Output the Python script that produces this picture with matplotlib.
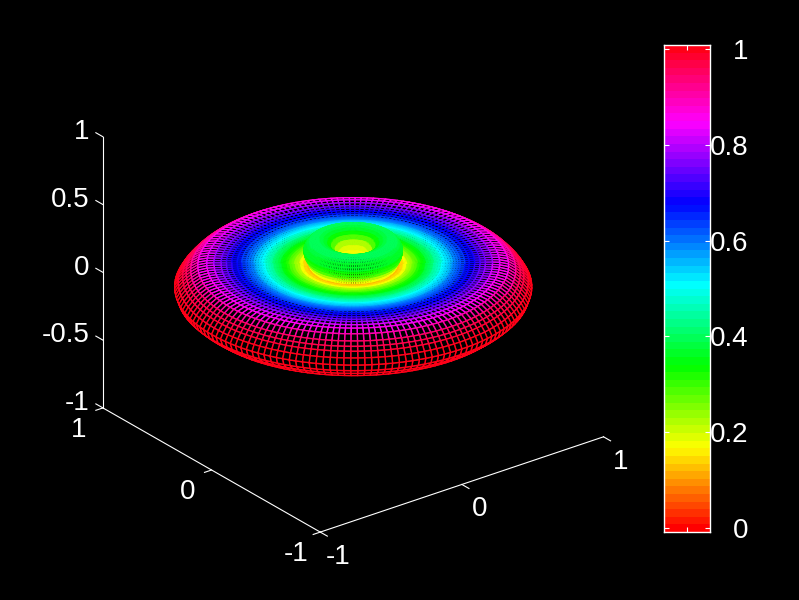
import numpy as np
import matplotlib
matplotlib.use('Agg')
import matplotlib.pyplot as plt
from matplotlib.colors import Normalize
from mpl_toolkits.mplot3d import proj3d
from mpl_toolkits.mplot3d.art3d import Poly3DCollection

plt.rcParams['font.family'] = ['Liberation Sans', 'DejaVu Sans']

# profile of the surface of revolution, pole -> rim -> underside
rows_r = [0.0, 0.02, 0.04, 0.07, 0.09, 0.11, 0.13, 0.15, 0.17, 0.19, 0.21, 0.23, 0.245, 0.258, 0.268, 0.275,
          0.275, 0.27, 0.26, 0.25, 0.24, 0.245, 0.26, 0.28, 0.30, 0.315, 0.33, 0.345, 0.36, 0.375, 0.39,
          0.405, 0.42, 0.435, 0.45, 0.465, 0.48, 0.495, 0.51, 0.525, 0.54, 0.555, 0.57, 0.585, 0.60, 0.625,
          0.65, 0.68, 0.71, 0.74, 0.78, 0.82, 0.87, 0.91, 0.935, 0.955, 0.98, 1.0, 0.985, 0.95, 0.90, 0.84,
          0.65, 0.40, 0.20, 0.0]
rows_z = [0.20, 0.201, 0.205, 0.225, 0.25, 0.28, 0.305, 0.322, 0.335, 0.342, 0.345, 0.34, 0.33, 0.315, 0.295, 0.275,
          0.26, 0.235, 0.21, 0.185, 0.155, 0.155, 0.156, 0.158, 0.16, 0.161, 0.162, 0.162, 0.163, 0.163, 0.164,
          0.164, 0.165, 0.165, 0.166, 0.166, 0.167, 0.167, 0.168, 0.168, 0.168, 0.169, 0.169, 0.17, 0.17, 0.17,
          0.17, 0.17, 0.17, 0.17, 0.17, 0.168, 0.155, 0.125, 0.10, 0.075, 0.04, 0.0, -0.05, -0.09, -0.135, -0.16,
          -0.17, -0.17, -0.16, -0.16]
rows_c = [0.16, 0.16, 0.17, 0.19, 0.23, 0.29, 0.33, 0.36, 0.38, 0.39, 0.39, 0.39, 0.38, 0.37, 0.36, 0.34,
          0.31, 0.28, 0.22, 0.17, 0.06, 0.12, 0.15, 0.18, 0.22, 0.245, 0.27, 0.29, 0.31, 0.33, 0.35,
          0.38, 0.40, 0.42, 0.44, 0.46, 0.48, 0.50, 0.52, 0.54, 0.56, 0.58, 0.60, 0.62, 0.64, 0.665,
          0.69, 0.72, 0.75, 0.78, 0.82, 0.86, 0.91, 0.95, 0.97, 0.99, 1.0, 1.0, 1.0, 1.0, 1.0, 1.0,
          1.0, 1.0, 1.0, 1.0]

ticks_xyz = [-1, 0, 1]
ticks_z = [-1, -0.5, 0, 0.5, 1]
ticks_bar = [0, 0.2, 0.4, 0.6, 0.8, 1]
labels_z = ['-1', '-0.5', '0', '0.5', '1']
labels_bar = ['0', '0.2', '0.4', '0.6', '0.8', '1']
clim = (-0.008, 1.008)
n_meridians = 160

cmap = plt.get_cmap('hsv', 64)
norm = Normalize(*clim)

fig = plt.figure(figsize=(7.99, 6), dpi=100, facecolor='k')
W, H = 799, 600
ax = fig.add_axes([60 / W, 20 / H, 571 / W, 571 / H], projection='3d', proj_type='ortho')
ax.set_facecolor('k')
ax.set_axis_off()
ax.view_init(elev=26, azim=-127.5)
ax.set_box_aspect((1, 1, 0.845))
ax.set_xlim(-1, 1)
ax.set_ylim(-1, 1)
ax.set_zlim(-1, 1)

# mesh: black faces hide what is behind, edges carry the colour
phi = np.linspace(0, 2 * np.pi, n_meridians + 1)
verts = []
edges = []
for i in range(len(rows_r) - 1):
    for j in range(n_meridians):
        quad = []
        for k, p in ((i, phi[j]), (i, phi[j + 1]), (i + 1, phi[j + 1]), (i + 1, phi[j])):
            quad.append((rows_r[k] * np.cos(p), rows_r[k] * np.sin(p), rows_z[k]))
        verts.append(quad)
        edges.append(cmap(norm(rows_c[i])))
mesh = Poly3DCollection(verts, facecolors='k', edgecolors=edges, linewidths=1.0)
ax.add_collection3d(mesh)


def label3d(x, y, z, s, ha='center'):
    # plain 2D text at the projected spot of a 3D point
    px, py, _ = proj3d.proj_transform(x, y, z, ax.get_proj())
    ax.text2D(px, py, s, transform=ax.transData, color='w', fontsize=20, ha=ha, va='center', clip_on=False)


# axis lines and ticks
line = dict(color='w', lw=0.8)
ax.plot([-1, 1], [-1, -1], [-1, -1], **line)
ax.plot([-1, -1], [-1, 1], [-1, -1], **line)
ax.plot([-1, -1], [1, 1], [-1, 1], **line)
for t in ticks_xyz:
    ax.plot([t, t], [-1, -1.065], [-1, -1], **line)
    ax.plot([-1, -1.05], [t, t], [-1, -1], **line)
    label3d(t, -1.16, -1.11, str(t))
    label3d(-1.17, t, -1.1, str(t))
for t, s in zip(ticks_z, labels_z):
    ax.plot([-1, -1], [1, 1.065], [t, t], **line)
    label3d(-1, 1.12, t - 0.02, s, ha='right')

# colorbar
cax = fig.add_axes([664 / W, (H - 532) / H, 46 / W, 487 / H])
cax.imshow(np.linspace(0, 1, 64)[:, None], cmap=cmap, origin='lower', aspect='auto',
           extent=(0, 1, clim[0], clim[1]), vmin=0, vmax=1, interpolation='nearest')
cax.set_facecolor('k')
for s in cax.spines.values():
    s.set_color('w')
    s.set_linewidth(1.0)
cax.set_xlim(0, 1)
cax.set_ylim(*clim)
cax.set_xticks([0.5])
cax.set_xticklabels([])
cax.set_yticks(ticks_bar)
cax.set_yticklabels(labels_bar, color='w', fontsize=20)
cax.tick_params(axis='x', direction='in', top=True, bottom=True, length=3.5, color='w', width=0.8)
cax.tick_params(axis='y', direction='in', left=True, right=True, labelleft=False, labelright=True,
                length=3.5, color='w', width=0.8, pad=27.5)
for lab in cax.get_yticklabels():
    lab.set_ha('right')

fig.savefig('out.png', dpi=100, facecolor='k')
